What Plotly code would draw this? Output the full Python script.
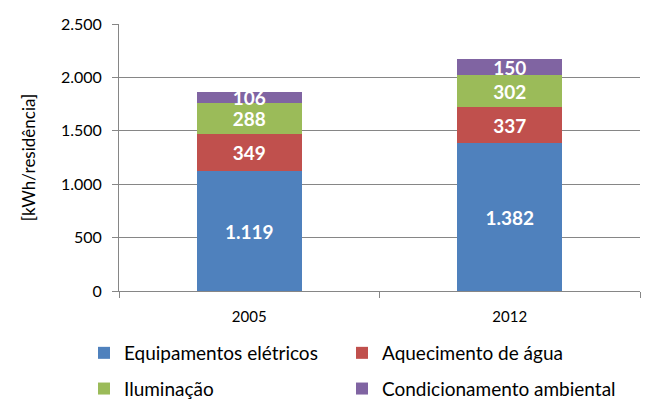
import plotly.graph_objects as go

years = ["2005", "2012"]
equipamentos = [1119, 1382]
aquecimento = [349, 337]
iluminacao = [288, 302]
condicionamento = [106, 150]
series_names = ["Equipamentos elétricos", "Aquecimento de água", "Iluminação", "Condicionamento ambiental"]
colors = ["#4F81BD", "#C0504D", "#9BBB59", "#8064A2"]
legend_ids = ["legend", "legend2", "legend", "legend2"]
y_ticks = [0, 500, 1000, 1500, 2000, 2500]

FONT = "Lato, Open Sans, sans-serif"

fig = go.Figure()
for name, vals, col, lg in zip(series_names, [equipamentos, aquecimento, iluminacao, condicionamento], colors, legend_ids):
    fig.add_trace(go.Bar(
        name=name, x=years, y=vals, marker=dict(color=col, line=dict(width=0)),
        legend=lg, legendgroup=name,
        text=vals, texttemplate="%{y:,}", textposition="inside", insidetextanchor="middle",
        textfont=dict(color="white", size=19, family=FONT, weight="bold"),
    ))

leg_common = dict(orientation="v", xanchor="left", yanchor="top", traceorder="grouped",
                  tracegroupgap=8, font=dict(size=19, family=FONT), itemwidth=30,
                  bgcolor="rgba(0,0,0,0)")
fig.update_layout(
    barmode="stack", bargap=0.597,
    separators=",.",
    width=669, height=409,
    margin=dict(l=111, r=37, t=16, b=126, autoexpand=False),
    paper_bgcolor="white", plot_bgcolor="white",
    font=dict(family=FONT, size=15, color="#000000"),
    uniformtext=dict(mode="show", minsize=19),
    showlegend=True,
    legend=dict(x=-0.0672, y=-0.161, **leg_common),
    legend2=dict(x=0.428, y=-0.161, **leg_common),
)
fig.update_yaxes(range=[0, 2500], tickvals=y_ticks, tickformat=",", showgrid=True, gridcolor="#868686",
                 gridwidth=1, showline=True, linecolor="#868686", ticks="outside", ticklen=6,
                 tickcolor="#868686", zeroline=False, tickfont=dict(size=16), ticklabelstandoff=7,
                 title=dict(text="[kWh/residência]", font=dict(size=17), standoff=20))
fig.update_xaxes(showline=True, linecolor="#868686", ticks="outside", ticklen=6, tickcolor="#868686",
                 tickson="boundaries", showgrid=False, tickfont=dict(size=15), ticklabelstandoff=12)

fig.write_html("out.html")
